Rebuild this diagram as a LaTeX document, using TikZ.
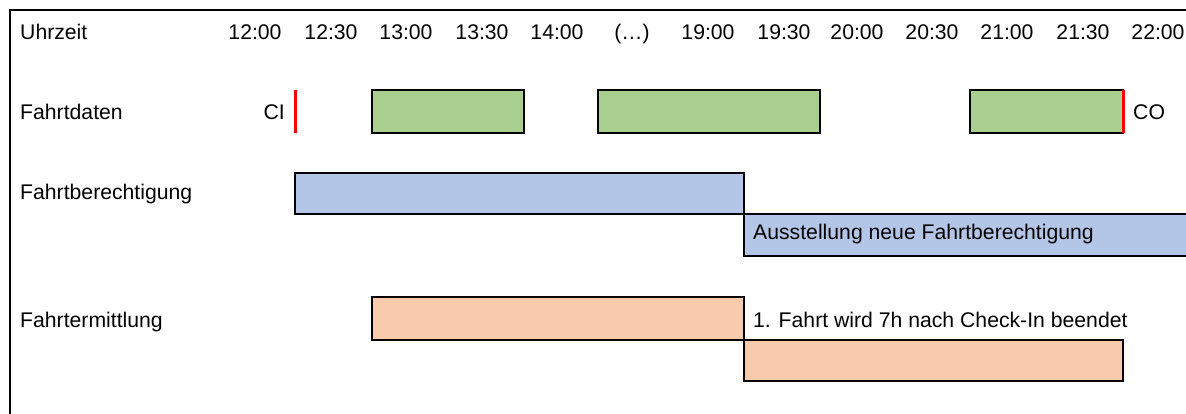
\documentclass[tikz,border=0pt]{standalone}
\usepackage{fontspec}
\setmainfont{Liberation Sans}
\usetikzlibrary{positioning}
\definecolor{green1}{RGB}{169,208,142}
\definecolor{blue1}{RGB}{180,198,231}
\definecolor{orange1}{RGB}{248,203,173}
\definecolor{red1}{RGB}{255,0,0}

\begin{document}
\begin{tikzpicture}[x=1pt,y=-1pt,
  txt/.style={inner sep=0pt,font=\fontsize{21.2}{25}\selectfont},
  bar/.style={draw=black,line width=1.5pt},
  redmark/.style={red1,line width=3pt}]
\useasboundingbox (0,0) rectangle (1186,414);

% frame
\draw[line width=1.3pt] (1186,10) -- (10,10) -- (10,414);

% row labels
\node[txt,anchor=base west] (uhr) at (20,40) {Uhrzeit};
\node[txt,anchor=base west] (daten) at (20,120) {Fahrtdaten};
\node[txt,anchor=base west] (berecht) at (20,200) {Fahrtberechtigung};
\node[txt,anchor=base west] (ermitt) at (20,327) {Fahrtermittlung};

% time axis
\foreach \x/\t [count=\i] in {255/12:00,331/12:30,406/13:00,482/13:30,557/14:00,632/(…),
    708/19:00,784/19:30,857/20:00,932/20:30,1007/21:00,1083/21:30,1158/22:00}
  \node[txt,anchor=base] (t\i) at (\x,40) {\t};

% Fahrtdaten: trips, check-in / check-out
\draw[bar,fill=green1] (372,90) rectangle (524,133);
\draw[bar,fill=green1] (598,90) rectangle (820,133);
\draw[bar,fill=green1] (970,90) rectangle (1123,133);
\coordinate (ci) at (295,90); \coordinate (co) at (1123,90);
\draw[redmark] (ci) -- ++(0,43); \draw[redmark] (co) -- ++(0,43);
\node[txt,anchor=base east] (cil) at (285,120) {CI};
\node[txt,anchor=base west] (col) at (1133,120) {CO};

% Fahrtberechtigung
\draw[bar,fill=blue1] (295,173) rectangle (744,214);
\draw[bar,fill=blue1] (744,214) rectangle (1188,256);
\node[txt,anchor=base west] (neu) at (753,240) {Ausstellung neue Fahrtberechtigung};

% Fahrtermittlung
\draw[bar,fill=orange1] (372,297) rectangle (744,340);
\draw[bar,fill=orange1] (744,340) rectangle (1123,381);
\node[txt,anchor=base west] (ende) at (753,327) {1. Fahrt wird 7h nach Check-In beendet};

\end{tikzpicture}
\end{document}
